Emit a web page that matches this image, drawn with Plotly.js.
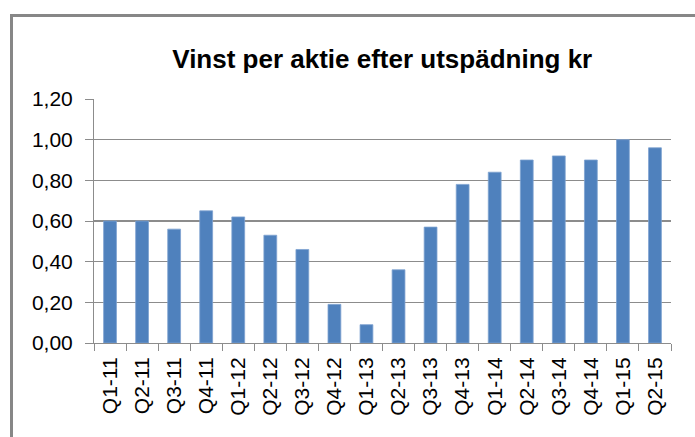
<!DOCTYPE html>
<html>
<head>
<meta charset="utf-8">
<script src="https://cdn.plot.ly/plotly-3.0.1.min.js"></script>
<style>
  html, body { margin: 0; padding: 0; background: #fff; }
  #wrap { position: relative; width: 695px; height: 437px; overflow: hidden; }
  #chart { position: absolute; left: 0; top: 0; width: 695px; height: 437px; }
  #frame { position: absolute; left: 10px; top: 14px; width: 800px; height: 600px;
           border-left: 3px solid #878787; border-top: 3px solid #878787; pointer-events: none; }
</style>
</head>
<body>
<div id="wrap">
  <div id="chart"></div>
  <div id="frame"></div>
</div>
<script>
const chartTitle = "Vinst per aktie efter utspädning kr";
const quarters = ["Q1-11","Q2-11","Q3-11","Q4-11","Q1-12","Q2-12","Q3-12","Q4-12","Q1-13",
                  "Q2-13","Q3-13","Q4-13","Q1-14","Q2-14","Q3-14","Q4-14","Q1-15","Q2-15"];
const eps = [0.60,0.60,0.56,0.65,0.62,0.53,0.46,0.19,0.09,
             0.36,0.57,0.78,0.84,0.90,0.92,0.90,1.00,0.96];
const yTicks = [0,0.2,0.4,0.6,0.8,1.0,1.2];

const trace = {
  type: "bar",
  x: quarters,
  y: eps,
  marker: { color: "#4F81BD", line: { color: "#7DA2D0", width: 0.8 } },
  hoverinfo: "x+y"
};

const layout = {
  width: 695, height: 437,
  margin: { l: 94, r: 24, t: 99, b: 94 },
  paper_bgcolor: "#ffffff",
  plot_bgcolor: "#ffffff",
  separators: ",.",
  showlegend: false,
  bargap: 0.6,
  font: { family: "Liberation Sans, Arial, sans-serif", color: "#000000" },
  title: {
    text: chartTitle,
    font: { family: "Liberation Sans, Arial, sans-serif", size: 26, color: "#000000", weight: "bold" },
    xref: "container", yref: "container",
    x: 0.55, xanchor: "center",
    y: 1 - 59/437, yanchor: "middle"
  },
  xaxis: {
    type: "category",
    tickangle: -90,
    tickson: "boundaries",
    ticks: "outside",
    ticklen: 7,
    tickcolor: "#8c8c8c",
    tickwidth: 1,
    ticklabelstandoff: 5,
    showline: true,
    linecolor: "#8c8c8c",
    linewidth: 1,
    showgrid: false,
    tickfont: { size: 21, color: "#000000" },
    automargin: false
  },
  yaxis: {
    range: [0, 1.2],
    tickvals: yTicks,
    tickformat: ".2f",
    ticks: "outside",
    ticklen: 8,
    tickcolor: "#8c8c8c",
    tickwidth: 1,
    ticklabelstandoff: 8,
    showline: true,
    linecolor: "#8c8c8c",
    linewidth: 1,
    showgrid: true,
    gridcolor: "#8c8c8c",
    gridwidth: 1.2,
    zeroline: false,
    tickfont: { size: 21, color: "#000000" },
    automargin: false
  }
};

Plotly.newPlot("chart", [trace], layout, { displayModeBar: false, staticPlot: true });
</script>
</body>
</html>
